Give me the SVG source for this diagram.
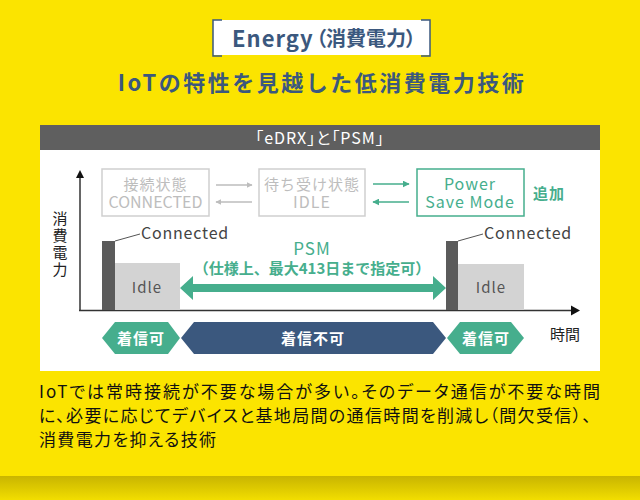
<svg xmlns="http://www.w3.org/2000/svg" width="640" height="500" viewBox="0 0 640 500">
<defs>
<linearGradient id="stripe" x1="0" y1="0" x2="0" y2="1">
<stop offset="0" stop-color="#C9B500"/>
<stop offset="0.5" stop-color="#DDC900"/>
<stop offset="1" stop-color="#F2DE00"/>
</linearGradient>
<marker id="ag" viewBox="0 0 10 10" refX="9" refY="5" markerWidth="6" markerHeight="6" markerUnits="userSpaceOnUse" orient="auto"><path d="M0,0L10,5L0,10Z" fill="#BDBDBD"/></marker>
<marker id="at" viewBox="0 0 10 10" refX="9" refY="5" markerWidth="7" markerHeight="7" markerUnits="userSpaceOnUse" orient="auto"><path d="M0,0L10,5L0,10Z" fill="#46AE8D"/></marker>
</defs>
<style>
text{font-family:"Noto Sans CJK JP","Noto Sans",sans-serif;}
.blue{fill:#3B587E;font-weight:bold;}
.gbox{fill:#FFFFFF;stroke:#CFCFCF;stroke-width:1.5;}
.gtxt{fill:#BDBDBD;font-size:15px;text-anchor:middle;letter-spacing:1px;}
.tbox{fill:#FFFFFF;stroke:#46AE8D;stroke-width:1.5;}
.ttxt{fill:#46AE8D;font-size:16px;text-anchor:middle;letter-spacing:1px;}
.bar{fill:#5B5B5B;}
.idle{fill:#D3D3D3;}
.idlet{fill:#555555;font-size:15px;text-anchor:middle;letter-spacing:1px;}
.conn{fill:#444444;font-size:16px;letter-spacing:0.8px;}
.hexw{fill:#FFFFFF;font-size:15px;font-weight:bold;text-anchor:middle;letter-spacing:1px;}
.para{fill:#111111;font-size:17px;font-feature-settings:"palt";}
</style>
<rect x="0" y="0" width="640" height="500" fill="#FBE400"/>
<rect x="0" y="476" width="640" height="24" fill="url(#stripe)"/>

<g id="energy-label">
<rect x="213" y="20" width="217" height="35" fill="#FFFFFF"/>
<path d="M222,20H213V56H222" fill="none" stroke="#3B587E" stroke-width="1.5"/>
<path d="M421,20H430V56H421" fill="none" stroke="#3B587E" stroke-width="1.5"/>
<text x="232" y="47" class="blue" font-size="22" letter-spacing="1">Energy</text>
<text x="316" y="46" class="blue" font-size="20" style="font-feature-settings:'palt'">（消費電力）</text>
</g>

<g id="title">
<text x="322" y="91" class="blue" font-size="22" text-anchor="middle" letter-spacing="2.5">IoTの特性を見越した低消費電力技術</text>
</g>

<g id="panel">
<rect x="40" y="150" width="560" height="221" fill="#FFFFFF"/>
<rect x="40" y="125" width="560" height="25" fill="#5F5F5F"/>
<text x="320" y="144" fill="#FFFFFF" font-size="16" text-anchor="middle" letter-spacing="1" style="font-feature-settings:'palt'">「eDRX」と「PSM」</text>
</g>

<g id="node-connected">
<rect x="102" y="169" width="107" height="47" class="gbox"/>
<text class="gtxt"><tspan x="155.5" y="190">接続状態</tspan><tspan x="155.5" y="208" font-size="16" letter-spacing="0">CONNECTED</tspan></text>
</g>
<g id="node-idle">
<rect x="259" y="169" width="106" height="47" class="gbox"/>
<text class="gtxt"><tspan x="312" y="190">待ち受け状態</tspan><tspan x="312" y="208" font-size="16">IDLE</tspan></text>
</g>
<g id="node-psm">
<rect x="417" y="169" width="107" height="47" class="tbox"/>
<text class="ttxt"><tspan x="470" y="190">Power</tspan><tspan x="470" y="208">Save Mode</tspan></text>
</g>
<g id="label-add">
<text x="533" y="199" fill="#46AE8D" font-size="15" font-weight="bold" letter-spacing="1">追加</text>
</g>

<g id="connectors">
<line x1="216" y1="185" x2="252" y2="185" stroke="#BDBDBD" stroke-width="1.5" marker-end="url(#ag)"/>
<line x1="252" y1="202" x2="216" y2="202" stroke="#BDBDBD" stroke-width="1.5" marker-end="url(#ag)"/>
<line x1="373" y1="184" x2="409" y2="184" stroke="#46AE8D" stroke-width="1.5" marker-end="url(#at)"/>
<line x1="409" y1="202" x2="373" y2="202" stroke="#46AE8D" stroke-width="1.5" marker-end="url(#at)"/>
</g>

<g id="axes">
<line x1="80" y1="311" x2="80" y2="177" stroke="#333333" stroke-width="1.5"/>
<path d="M80,170L76,178H84Z" fill="#111111"/>
<line x1="79" y1="310.5" x2="572" y2="310.5" stroke="#333333" stroke-width="1.5"/>
<path d="M580,310.5L571,305.5V315.5Z" fill="#111111"/>
<text x="60" y="211" font-size="15" fill="#222222" writing-mode="vertical-rl" letter-spacing="2">消費電力</text>
<text x="550" y="340" font-size="15" fill="#222222">時間</text>
</g>

<g id="power-1">
<rect x="115" y="263" width="65" height="47" class="idle"/>
<rect x="102" y="241" width="13" height="69" class="bar"/>
<line x1="115" y1="241" x2="140" y2="234" stroke="#555555" stroke-width="1"/>
<text x="141" y="239" class="conn">Connected</text>
<text x="147" y="293" class="idlet">Idle</text>
</g>
<g id="power-2">
<rect x="458" y="264" width="66" height="46" class="idle"/>
<rect x="446" y="241" width="12" height="69" class="bar"/>
<line x1="458" y1="241" x2="483" y2="234" stroke="#555555" stroke-width="1"/>
<text x="484" y="239" class="conn">Connected</text>
<text x="491" y="293" class="idlet">Idle</text>
</g>

<g id="psm-span">
<path d="M180,288L193,276V284H433V276L446,288L433,300V292H193V300Z" fill="#46AE8D"/>
<text x="312" y="255" fill="#46AE8D" font-size="17" text-anchor="middle" letter-spacing="1">PSM</text>
<text x="312" y="274" fill="#46AE8D" font-size="15" font-weight="bold" text-anchor="middle">（仕様上、最大413日まで指定可）</text>
</g>

<g id="recv-1">
<path d="M102,338L115,322H168L180,338L168,354H115Z" fill="#46AE8D"/>
<text x="141" y="344" class="hexw">着信可</text>
</g>
<g id="recv-2">
<path d="M181,338L194,322H433L446,338L433,354H194Z" fill="#3B587E"/>
<text x="313" y="344" class="hexw">着信不可</text>
</g>
<g id="recv-3">
<path d="M447,338L460,322H511L524,338L511,354H460Z" fill="#46AE8D"/>
<text x="486" y="344" class="hexw">着信可</text>
</g>

<g id="description">
<text x="39" y="398" class="para" textLength="561" lengthAdjust="spacing">IoTでは常時接続が不要な場合が多い。そのデータ通信が不要な時間</text>
<text x="39" y="422" class="para" textLength="552" lengthAdjust="spacing">に、必要に応じてデバイスと基地局間の通信時間を削減し（間欠受信）、</text>
<text x="39" y="446" class="para" textLength="177" lengthAdjust="spacing">消費電力を抑える技術</text>
</g>
</svg>
